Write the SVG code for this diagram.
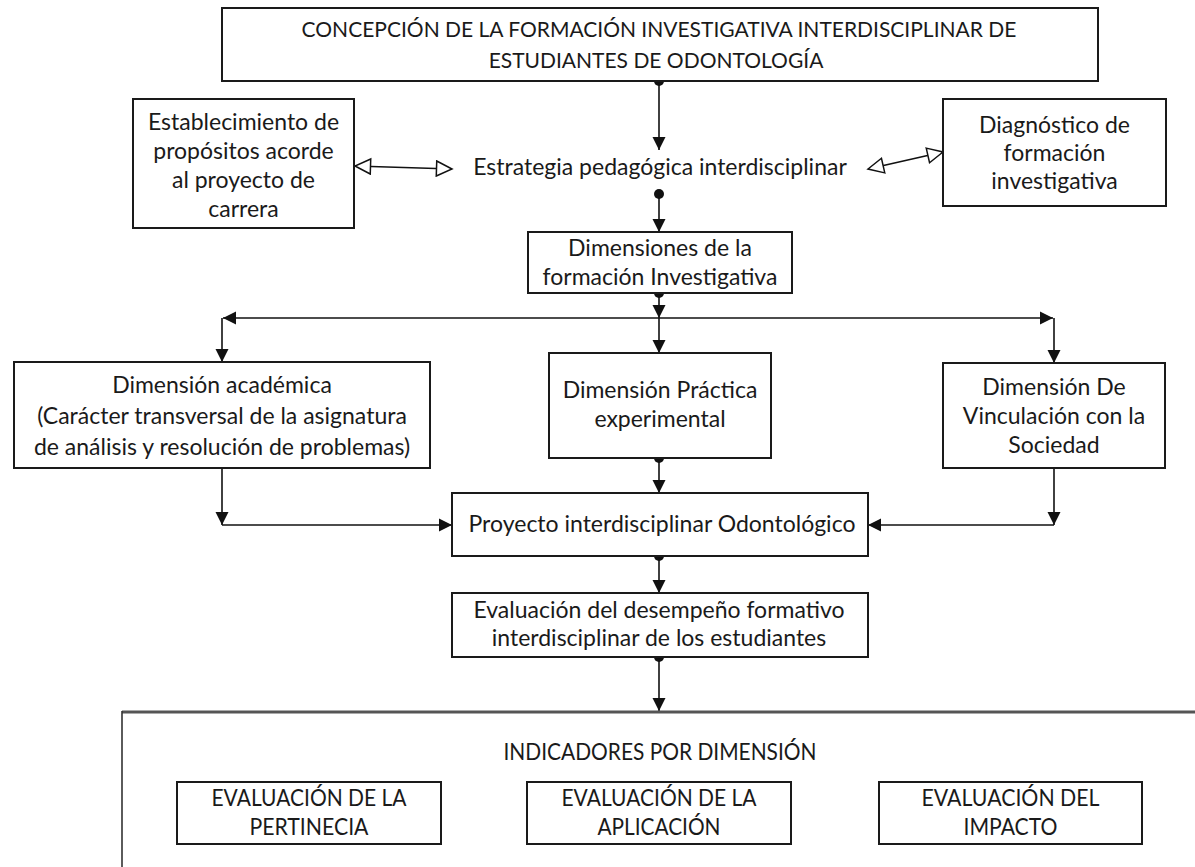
<svg xmlns="http://www.w3.org/2000/svg" width="1195" height="867" viewBox="0 0 1195 867">
<defs>
<style>
.box{fill:#fff;stroke:#1a1a1a;stroke-width:2}
.t{font-family:Lato,"Liberation Sans",sans-serif;font-size:23px;fill:#1a1a1a;text-anchor:middle}
.u{font-family:Lato,"Liberation Sans",sans-serif;font-size:21px;fill:#1a1a1a;text-anchor:middle}
.c{font-family:Lato,"Liberation Sans",sans-serif;font-size:23px;fill:#1a1a1a;text-anchor:middle}
.ln{fill:none;stroke:#111;stroke-width:1.6}
.dot{fill:#111}
</style>
<marker id="ah" markerUnits="userSpaceOnUse" markerWidth="14" markerHeight="14" refX="13" refY="7" orient="auto">
<path d="M0,0.5 L13,7 L0,13.5 z" fill="#111"/>
</marker>
<marker id="oh" markerUnits="userSpaceOnUse" markerWidth="20" markerHeight="18" refX="17" refY="9" orient="auto-start-reverse">
<path d="M1.5,1.5 L17,9 L1.5,16.5 z" fill="#fff" stroke="#111" stroke-width="1.5"/>
</marker>
</defs>
<rect width="1195" height="867" fill="#fff"/>

<g id="connectors">
<circle class="dot" cx="659" cy="81" r="5"/>
<path class="ln" d="M659,81 V150" marker-end="url(#ah)"/>
<circle class="dot" cx="659" cy="194" r="5"/>
<path class="ln" d="M659,194 V232" marker-end="url(#ah)"/>
<path class="ln" d="M355,166 L452,169" marker-start="url(#oh)" marker-end="url(#oh)"/>
<path class="ln" d="M868,169 L943,152" marker-start="url(#oh)" marker-end="url(#oh)"/>
<circle class="dot" cx="659" cy="293" r="5"/>
<path class="ln" d="M659,293 V318" marker-end="url(#ah)"/>
<path class="ln" d="M659,318 H223" marker-end="url(#ah)"/>
<path class="ln" d="M659,318 H1053" marker-end="url(#ah)"/>
<path class="ln" d="M222,318 V362" marker-end="url(#ah)"/>
<path class="ln" d="M659,318 V353" marker-end="url(#ah)"/>
<path class="ln" d="M1054,318 V363" marker-end="url(#ah)"/>
<circle class="dot" cx="659" cy="458" r="5"/>
<path class="ln" d="M659,458 V493" marker-end="url(#ah)"/>
<path class="ln" d="M222,468 V525" marker-end="url(#ah)"/>
<path class="ln" d="M222,525 H452" marker-end="url(#ah)"/>
<path class="ln" d="M1054,468 V525" marker-end="url(#ah)"/>
<path class="ln" d="M1054,525 H868" marker-end="url(#ah)"/>
<circle class="dot" cx="659" cy="556" r="5"/>
<path class="ln" d="M659,556 V593" marker-end="url(#ah)"/>
<circle class="dot" cx="659" cy="657" r="5"/>
<path class="ln" d="M659,657 V711" marker-end="url(#ah)"/>
</g>

<g id="n-concepcion">
<rect class="box" x="222" y="8" width="876" height="73"/>
<text class="u" x="659" y="37">CONCEPCIÓN DE LA FORMACIÓN INVESTIGATIVA INTERDISCIPLINAR DE</text>
<text class="u" x="656" y="68">ESTUDIANTES DE ODONTOLOGÍA</text>
</g>

<g id="n-establecimiento">
<rect class="box" x="133" y="99" width="221" height="129"/>
<text class="t" x="243.5" y="130">Establecimiento de</text>
<text class="t" x="243.5" y="159">propósitos acorde</text>
<text class="t" x="243.5" y="188">al proyecto de</text>
<text class="t" x="243.5" y="217">carrera</text>
</g>

<g id="n-estrategia">
<text class="t" x="660" y="175">Estrategia pedagógica interdisciplinar</text>
</g>

<g id="n-diagnostico">
<rect class="box" x="943" y="99" width="223" height="107"/>
<text class="t" x="1054.5" y="133">Diagnóstico de</text>
<text class="t" x="1054.5" y="161">formación</text>
<text class="t" x="1054.5" y="189">investigativa</text>
</g>

<g id="n-dimensiones">
<rect class="box" x="528" y="232" width="264" height="61"/>
<text class="t" x="660" y="256">Dimensiones de la</text>
<text class="t" x="660" y="285">formación Investigativa</text>
</g>

<g id="n-academica">
<rect class="box" x="14" y="362" width="416" height="106"/>
<text class="t" x="222" y="393">Dimensión académica</text>
<text class="t" x="222" y="424">(Carácter transversal de la asignatura</text>
<text class="t" x="222" y="455">de análisis y resolución de problemas)</text>
</g>

<g id="n-practica">
<rect class="box" x="549" y="353" width="222" height="105"/>
<text class="t" x="660" y="398">Dimensión Práctica</text>
<text class="t" x="660" y="427">experimental</text>
</g>

<g id="n-vinculacion">
<rect class="box" x="943" y="363" width="222" height="105"/>
<text class="t" x="1054" y="395">Dimensión De</text>
<text class="t" x="1054" y="424">Vinculación con la</text>
<text class="t" x="1054" y="453">Sociedad</text>
</g>

<g id="n-proyecto">
<rect class="box" x="452" y="493" width="416" height="63"/>
<text class="t" x="662" y="532">Proyecto interdisciplinar Odontológico</text>
</g>

<g id="n-evaluacion">
<rect class="box" x="452" y="593" width="416" height="64"/>
<text class="t" x="659" y="618">Evaluación del desempeño formativo</text>
<text class="t" x="659" y="646">interdisciplinar de los estudiantes</text>
</g>

<g id="n-indicadores">
<path d="M122,712 H1195" fill="none" stroke="#555" stroke-width="3"/>
<path d="M122,711 V867" fill="none" stroke="#333" stroke-width="1.6"/>
<text class="c" x="660" y="760" textLength="313" lengthAdjust="spacingAndGlyphs">INDICADORES POR DIMENSIÓN</text>
</g>

<g id="n-pertinencia">
<rect class="box" x="177" y="782" width="264" height="62"/>
<text class="c" x="309" y="806" textLength="195" lengthAdjust="spacingAndGlyphs">EVALUACIÓN DE LA</text>
<text class="c" x="309" y="835" textLength="119" lengthAdjust="spacingAndGlyphs">PERTINECIA</text>
</g>

<g id="n-aplicacion">
<rect class="box" x="527" y="782" width="264" height="62"/>
<text class="c" x="659" y="806" textLength="195" lengthAdjust="spacingAndGlyphs">EVALUACIÓN DE LA</text>
<text class="c" x="659" y="835" textLength="123" lengthAdjust="spacingAndGlyphs">APLICACIÓN</text>
</g>

<g id="n-impacto">
<rect class="box" x="879" y="782" width="263" height="62"/>
<text class="c" x="1010.5" y="806" textLength="178" lengthAdjust="spacingAndGlyphs">EVALUACIÓN DEL</text>
<text class="c" x="1010.5" y="835" textLength="94" lengthAdjust="spacingAndGlyphs">IMPACTO</text>
</g>
</svg>
